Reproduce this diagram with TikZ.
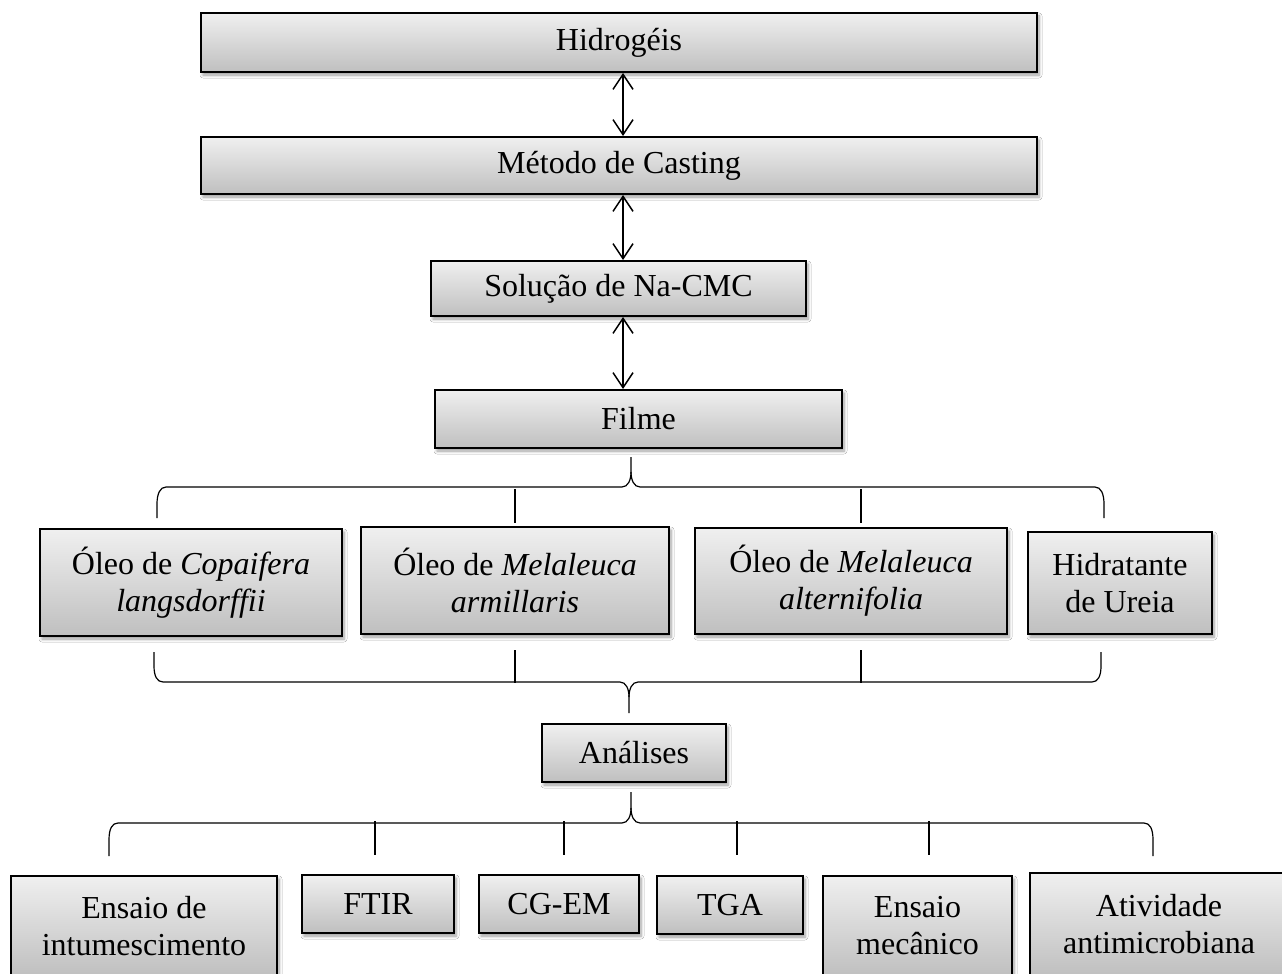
\documentclass[tikz,border=0pt]{standalone}
\usepackage{fontspec}
\setmainfont{Liberation Serif}
\usetikzlibrary{arrows.meta,shadows.blur}
\tikzset{
  box/.style={draw=black, line width=2pt, top color=gray!12, bottom color=gray!50,
    align=center, inner sep=0pt, font=\fontsize{32}{37}\selectfont,
    blur shadow={shadow xshift=2pt, shadow yshift=-3pt, shadow blur radius=3pt, shadow blur steps=6, shadow opacity=40}},
  dar/.style={{Straight Barb[length=15pt,width=20pt]}-{Straight Barb[length=15pt,width=20pt]}, line width=1.5pt},
  bracel/.style={line width=1.2pt},
  tickl/.style={line width=2.5pt}
}
\begin{document}
\begin{tikzpicture}[x=1pt,y=-1pt]
\clip (0,0) rectangle (1282,974);
\fill[white] (0,0) rectangle (1282,974);
% top chain
\node[box, minimum width=836, minimum height=59] (hyd) at (619,42.5) {Hidrogéis};
\node[box, minimum width=836, minimum height=57] (met) at (619,165.5) {Método de Casting};
\node[box, minimum width=375, minimum height=55] (sol) at (618.5,288.5) {Solução de Na-CMC};
\node[box, minimum width=407, minimum height=58] (fil) at (638.5,419) {Filme};
\coordinate (ax) at (623,0);
\draw[dar] (hyd.south -| ax) -- (met.north -| ax);
\draw[dar] (met.south -| ax) -- (sol.north -| ax);
\draw[dar] (sol.south -| ax) -- (fil.north -| ax);
% oils
\node[box, minimum width=302, minimum height=107] (cop) at (191,582.5) {Óleo de \textit{Copaifera}\\\textit{langsdorffii}};
\node[box, minimum width=308, minimum height=107] (arm) at (515,580.5) {Óleo de \textit{Melaleuca}\\\textit{armillaris}};
\node[box, minimum width=312, minimum height=106] (alt) at (851,581) {Óleo de \textit{Melaleuca}\\\textit{alternifolia}};
\node[box, minimum width=184, minimum height=102] (ure) at (1120,583) {Hidratante\\de Ureia};
% brace 1
\coordinate (b1t) at (631,457);
\coordinate (b1l) at (157,518);
\coordinate (b1r) at (1104,518);
\draw[bracel] (b1l) -- ++(0,-14) .. controls +(0,-10) and +(-6,0) .. ++(9,-17) -- (622,487) .. controls +(6,0) and +(0,8) .. (631,472) -- (b1t);
\draw[bracel] (b1r) -- ++(0,-14) .. controls +(0,-10) and +(6,0) .. ++(-9,-17) -- (640,487) .. controls +(-6,0) and +(0,8) .. (631,472);
\coordinate (k1a) at (515,489); \coordinate (k1b) at (515,523);
\coordinate (k1c) at (861,489); \coordinate (k1d) at (861,523);
\draw[tickl] (k1a) -- (k1b);
\draw[tickl] (k1c) -- (k1d);
% brace 2
\coordinate (b2t) at (629,713);
\coordinate (b2l) at (154,652);
\coordinate (b2r) at (1101,652);
\draw[bracel] (b2l) -- ++(0,14) .. controls +(0,10) and +(-6,0) .. ++(9,16) -- (620,682) .. controls +(6,0) and +(0,-8) .. (629,697) -- (b2t);
\draw[bracel] (b2r) -- ++(0,14) .. controls +(0,10) and +(6,0) .. ++(-9,16) -- (638,682) .. controls +(-6,0) and +(0,-8) .. (629,697);
\coordinate (k2a) at (515,650); \coordinate (k2b) at (515,683);
\coordinate (k2c) at (861,650); \coordinate (k2d) at (861,683);
\draw[tickl] (k2a) -- (k2b);
\draw[tickl] (k2c) -- (k2d);
% analyses
\node[box, minimum width=184, minimum height=58] (ana) at (634,753) {Análises};
% brace 3
\coordinate (b3t) at (631,792);
\coordinate (b3l) at (109,856);
\coordinate (b3r) at (1153,856);
\draw[bracel] (b3l) -- ++(0,-16) .. controls +(0,-11) and +(-6,0) .. ++(9,-17) -- (622,823) .. controls +(6,0) and +(0,8) .. (631,808) -- (b3t);
\draw[bracel] (b3r) -- ++(0,-16) .. controls +(0,-11) and +(6,0) .. ++(-9,-17) -- (640,823) .. controls +(-6,0) and +(0,8) .. (631,808);
\coordinate (k3a) at (375,821); \coordinate (k3b) at (375,855);
\coordinate (k3c) at (564,821); \coordinate (k3d) at (564,855);
\coordinate (k3e) at (737,821); \coordinate (k3f) at (737,855);
\coordinate (k3g) at (929,821); \coordinate (k3h) at (929,855);
\draw[tickl] (k3a) -- (k3b);
\draw[tickl] (k3c) -- (k3d);
\draw[tickl] (k3e) -- (k3f);
\draw[tickl] (k3g) -- (k3h);
% bottom boxes
\node[box, minimum width=266, minimum height=100] (ens) at (144,926) {Ensaio de\\intumescimento};
\node[box, minimum width=152, minimum height=58] (ftir) at (378,904) {FTIR};
\node[box, minimum width=160, minimum height=58] (cgem) at (559,904) {CG-EM};
\node[box, minimum width=146, minimum height=58] (tga) at (730,905) {TGA};
\node[box, minimum width=189, minimum height=100] (mec) at (917.5,926) {Ensaio\\mecânico};
\node[box, minimum width=258, minimum height=103] (ati) at (1159,924.5) {Atividade\\antimicrobiana};
\end{tikzpicture}
\end{document}
